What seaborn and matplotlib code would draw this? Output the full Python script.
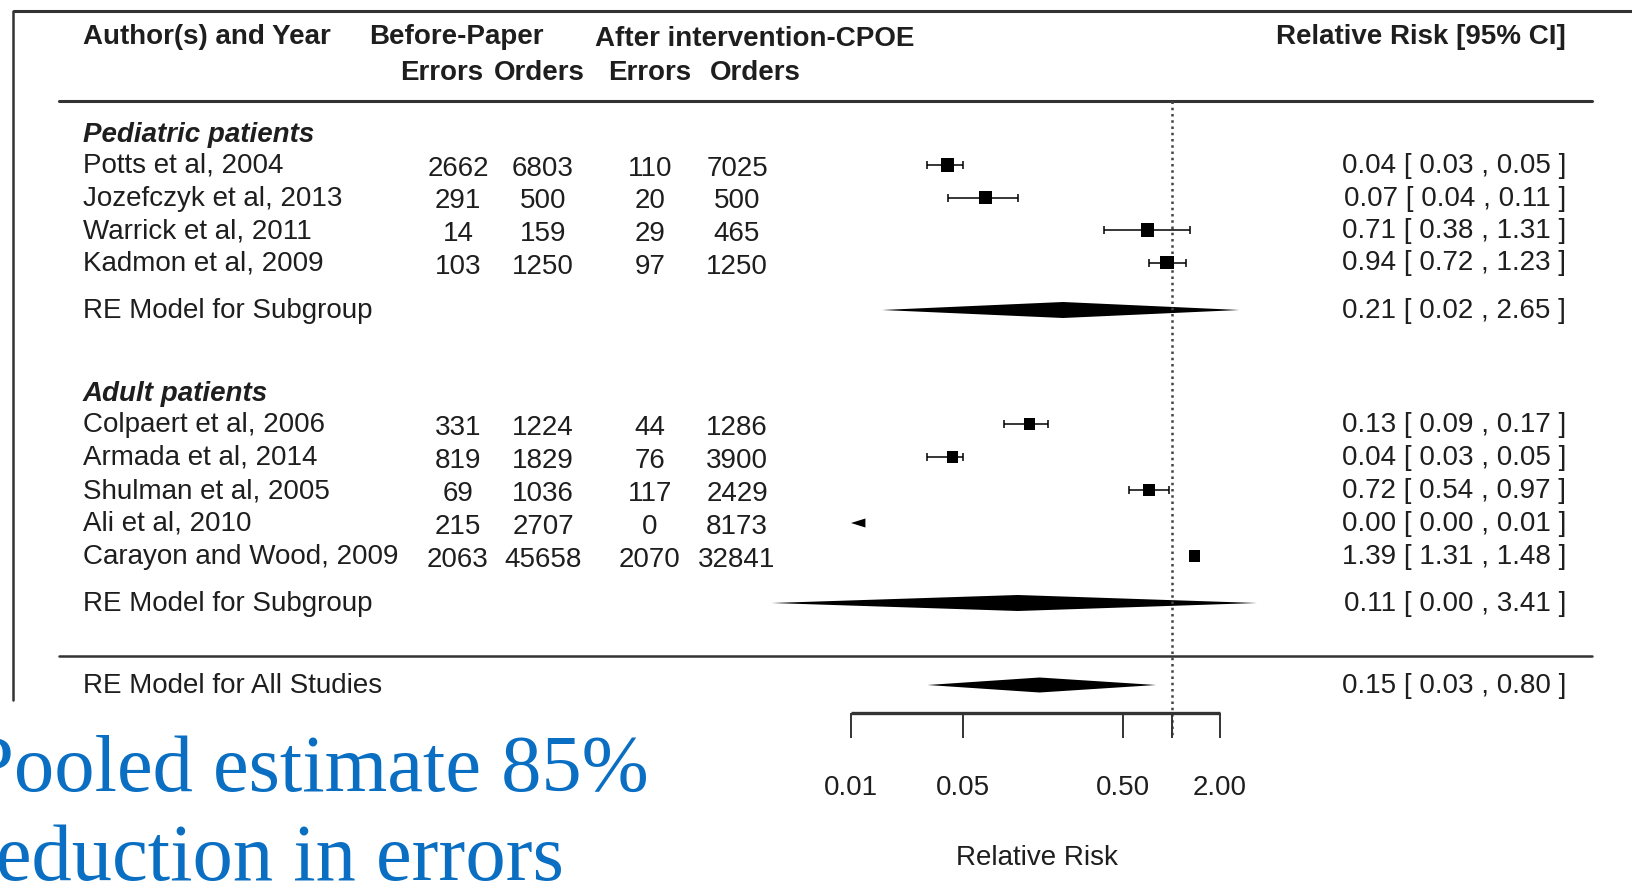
import matplotlib
matplotlib.use("Agg")
import numpy as np
import pandas as pd
import matplotlib.pyplot as plt
import seaborn as sns

# ---- data ----
ped_studies = ["Potts et al, 2004", "Jozefczyk et al, 2013", "Warrick et al, 2011", "Kadmon et al, 2009"]
ped_before_errors = [2662, 291, 14, 103]
ped_before_orders = [6803, 500, 159, 1250]
ped_after_errors = [110, 20, 29, 97]
ped_after_orders = [7025, 500, 465, 1250]
ped_rr = [0.040, 0.069, 0.71, 0.94]
ped_lo = [0.030, 0.040, 0.38, 0.72]
ped_hi = [0.050, 0.110, 1.31, 1.23]
ped_weight = [25.6, 25.0, 23.8, 25.6]

adult_studies = ["Colpaert et al, 2006", "Armada et al, 2014", "Shulman et al, 2005",
                 "Ali et al, 2010", "Carayon and Wood, 2009"]
adult_before_errors = [331, 819, 69, 215, 2063]
adult_before_orders = [1224, 1829, 1036, 2707, 45658]
adult_after_errors = [44, 76, 117, 0, 2070]
adult_after_orders = [1286, 3900, 2429, 8173, 32841]
adult_rr = [0.13, 0.043, 0.72, 0.0008, 1.39]
adult_lo = [0.09, 0.030, 0.54, 0.0001, 1.31]
adult_hi = [0.17, 0.050, 0.97, 0.0123, 1.48]
adult_weight = [20.2, 20.4, 19.9, 19.5, 20.0]

group_names = ["Pediatric patients", "Adult patients"]
subgroup_rr = [0.21, 0.11]
subgroup_lo = [0.0156, 0.0032]
subgroup_hi = [2.65, 3.41]
overall_rr, overall_lo, overall_hi = 0.15, 0.03, 0.80

axis_ticks = [0.01, 0.05, 0.5, 1, 2]
axis_tick_labels = ["0.01", "0.05", "0.50", "", "2.00"]

# ---- layout (pixel rows of the 1632x892 canvas) ----
W, H = 1632, 892
ped_rows = [165 + 32.5 * i for i in range(len(ped_studies))]
adult_rows = [424 + 33 * i for i in range(len(adult_studies))]
header_rows = [132, 391]
subgroup_rows = [310, 603]
overall_row = 685
ppd = 160.3          # pixels per decade
x001 = 851           # pixel of RR = 0.01
alim = (0.01, 2)

sns.set_style("white")
plt.rcParams["font.family"] = ["Liberation Sans", "DejaVu Sans"]
ink = "#1e1e1e"

fig = plt.figure(figsize=(W / 100, H / 100), dpi=100)
ax = fig.add_axes([0, 0, 1, 1])
ax.set_xscale("log")
ax.set_xlim(10 ** (-2 - x001 / ppd), 10 ** (-2 + (W - x001) / ppd))
ax.set_ylim(H, 0)
ax.axis("off")
tx = ax.get_yaxis_transform()


def fx(px):
    return px / W


fs = 20

# frame and rules
ax.plot([fx(12.5), 1], [10.5, 10.5], transform=tx, color="#333", lw=2.2, solid_capstyle="butt")
ax.plot([fx(12.5), fx(12.5)], [10.5, 700], transform=tx, color="#333", lw=1.8)
ax.plot([fx(59), fx(1592)], [101, 101], transform=tx, color="#333", lw=2.2)
ax.plot([fx(59), fx(1592)], [656, 656], transform=tx, color="#333", lw=1.8)

# headers
ax.text(fx(83), 44, "Author(s) and Year", transform=tx, fontsize=fs, fontweight="bold", color=ink, va="baseline")
ax.text(fx(369), 44, "Before-Paper", transform=tx, fontsize=fs, fontweight="bold", color=ink, va="baseline")
ax.text(fx(595), 46.5, "After intervention-CPOE", transform=tx, fontsize=fs, fontweight="bold", color=ink, va="baseline")
ax.text(fx(1566), 44, "Relative Risk [95% CI]", transform=tx, fontsize=fs, fontweight="bold", color=ink,
        va="baseline", ha="right")
for xc, s in zip([442, 539, 650, 755], ["Errors", "Orders", "Errors", "Orders"]):
    ax.text(fx(xc), 80, s, transform=tx, fontsize=fs, fontweight="bold", color=ink, va="baseline", ha="center")

col_x = [458, 543, 650, 737]


def ci_text(r, lo, hi):
    return f"{r:.2f} [ {lo:.2f} , {hi:.2f} ]"


rows = []
groups = [
    (ped_studies, ped_before_errors, ped_before_orders, ped_after_errors, ped_after_orders,
     ped_rr, ped_lo, ped_hi, ped_weight, ped_rows),
    (adult_studies, adult_before_errors, adult_before_orders, adult_after_errors, adult_after_orders,
     adult_rr, adult_lo, adult_hi, adult_weight, adult_rows),
]
for g, (names, be, bo, ae, ao, rr, lo, hi, wt, yy) in enumerate(groups):
    ax.text(fx(83), header_rows[g] + 10, group_names[g], transform=tx, fontsize=fs,
            fontweight="bold", fontstyle="italic", color=ink, va="baseline")
    for i, name in enumerate(names):
        y = yy[i]
        ax.text(fx(83), y + 8, name, transform=tx, fontsize=fs, color=ink, va="baseline")
        for cx, v in zip(col_x, [be[i], bo[i], ae[i], ao[i]]):
            ax.text(fx(cx), y + 11, str(v), transform=tx, fontsize=fs, color=ink, va="baseline", ha="center")
        ax.text(fx(1566), y + 8, ci_text(rr[i], lo[i], hi[i]), transform=tx, fontsize=fs, color=ink,
                va="baseline", ha="right")
        rows.append({"study": name, "rr": rr[i], "lo": lo[i], "hi": hi[i], "weight": wt[i], "y": y})
    # subgroup diamond
    y = subgroup_rows[g]
    ax.fill([subgroup_lo[g], subgroup_rr[g], subgroup_hi[g], subgroup_rr[g]], [y, y - 8, y, y + 8],
            color="black", lw=0)
    ax.text(fx(83), y + 8, "RE Model for Subgroup", transform=tx, fontsize=fs, color=ink, va="baseline")
    ax.text(fx(1566), y + 8, ci_text(subgroup_rr[g], subgroup_lo[g], subgroup_hi[g]), transform=tx,
            fontsize=fs, color=ink, va="baseline", ha="right")

df = pd.DataFrame(rows)

# confidence intervals
inside = df[df["lo"] >= alim[0]]
ax.errorbar(inside["rr"], inside["y"], xerr=[inside["rr"] - inside["lo"], inside["hi"] - inside["rr"]],
            fmt="none", ecolor="black", elinewidth=1.1, capsize=3, capthick=1.1)
for _, r in df[df["lo"] < alim[0]].iterrows():
    ax.fill([alim[0], r["hi"], r["hi"]], [r["y"], r["y"] - 4.5, r["y"] + 4.5], color="black", lw=0)

# point estimates (square size by weight)
pts = df[df["rr"] >= alim[0]]
sns.scatterplot(data=pts, x="rr", y="y", size="weight", sizes=(70, 100), marker="s",
                color="black", edgecolor="none", legend=False, ax=ax, zorder=3)

# overall diamond
y = overall_row
ax.fill([overall_lo, overall_rr, overall_hi, overall_rr], [y, y - 7.5, y, y + 7.5], color="black", lw=0)
ax.text(fx(83), y + 8, "RE Model for All Studies", transform=tx, fontsize=fs, color=ink, va="baseline")
ax.text(fx(1566), y + 8, ci_text(overall_rr, overall_lo, overall_hi), transform=tx, fontsize=fs,
        color=ink, va="baseline", ha="right")

# reference line at RR = 1
ax.vlines(1, 101, 738, colors="#444", linestyles=(0, (1, 1.5)), lw=1.8)

# x axis
ax.hlines(713, alim[0], alim[1], colors="#333", lw=2.4)
ax.vlines(axis_ticks, 713, 738, colors="#333", lw=1.4)
for t, lab in zip(axis_ticks, axis_tick_labels):
    ax.text(t, 795, lab, fontsize=fs, color=ink, ha="center", va="baseline")
ax.text(fx(1037), 865, "Relative Risk", transform=tx, fontsize=fs, color=ink, ha="center", va="baseline")

# slide annotation
blue = "#0a6fc2"
ax.text(fx(-31), 791, "Pooled estimate 85%", transform=tx, fontsize=58, color=blue,
        family=["Liberation Serif", "DejaVu Serif"], va="baseline", ha="left")
ax.text(fx(-31), 880, "reduction in errors", transform=tx, fontsize=58, color=blue,
        family=["Liberation Serif", "DejaVu Serif"], va="baseline", ha="left")

fig.savefig("out.png", dpi=100)
